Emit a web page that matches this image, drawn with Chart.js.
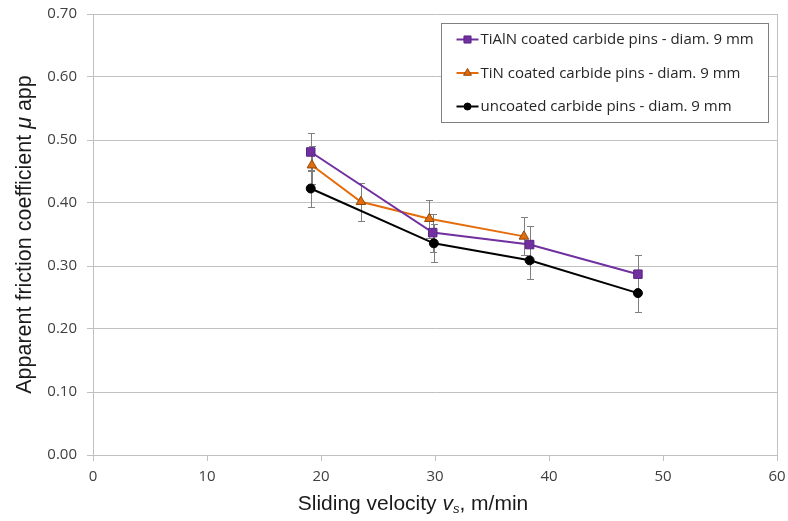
<!DOCTYPE html>
<html>
<head>
<meta charset="utf-8">
<script src="https://cdn.jsdelivr.net/npm/chart.js@4.4.0/dist/chart.umd.min.js"></script>
<style>
  html, body { margin: 0; padding: 0; background: #fff; }
</style>
</head>
<body>
<canvas id="friction" width="788" height="521"></canvas>
<script>
// series names as in the legend
const seriesNames = [
  'TiAlN coated carbide pins - diam. 9 mm',
  'TiN coated carbide pins - diam. 9 mm',
  'uncoated carbide pins - diam. 9 mm'
];

// sliding velocity (m/min), friction coefficient, error (+/-)
const velTiAlN = [19.1, 29.8, 38.3, 47.8];
const muTiAlN  = [0.481, 0.353, 0.334, 0.287];
const errTiAlN = [0.03, 0.03, 0.03, 0.03];

const velTiN = [19.2, 23.5, 29.5, 37.8];
const muTiN  = [0.460, 0.402, 0.375, 0.347];
const errTiN = [0.03, 0.03, 0.03, 0.03];

const velUncoated = [19.1, 29.9, 38.3, 47.8];
const muUncoated  = [0.423, 0.336, 0.309, 0.257];
const errUncoated = [0.03, 0.03, 0.03, 0.03];

const xTicks = [0, 10, 20, 30, 40, 50, 60];
const yTicks = [0, 0.1, 0.2, 0.3, 0.4, 0.5, 0.6, 0.7];

const toPoints = (xs, ys) => xs.map((v, i) => ({ x: v, y: ys[i] }));

const gridGray = '#c0c0c0';
const tickFont = { family: '"Open Sans", sans-serif', size: 15 };
const tickColor = '#404040';

// vertical error bars, drawn under the lines
const errorBars = {
  id: 'errorBars',
  beforeDatasetsDraw(chart) {
    const { ctx, scales: { x, y } } = chart;
    ctx.save();
    ctx.strokeStyle = '#7f7f7f';
    ctx.lineWidth = 1;
    chart.data.datasets.forEach(ds => {
      ds.data.forEach((p, i) => {
        const e = ds.errors[i];
        const px = Math.round(x.getPixelForValue(p.x)) + 0.5;
        const top = Math.round(y.getPixelForValue(p.y + e)) + 0.5;
        const bot = Math.round(y.getPixelForValue(p.y - e)) + 0.5;
        ctx.beginPath();
        ctx.moveTo(px, top); ctx.lineTo(px, bot);
        ctx.moveTo(px - 3.5, top); ctx.lineTo(px + 3.5, top);
        ctx.moveTo(px - 3.5, bot); ctx.lineTo(px + 3.5, bot);
        ctx.stroke();
      });
    });
    ctx.restore();
  }
};

// write a string made of parts with different fonts, centred on x
function drawParts(ctx, parts, x, y) {
  let total = 0;
  parts.forEach(p => { ctx.font = p[1]; total += ctx.measureText(p[0]).width; });
  let cx = x - total / 2;
  parts.forEach(p => {
    ctx.font = p[1];
    ctx.fillText(p[0], cx, y + (p[2] || 0));
    cx += ctx.measureText(p[0]).width;
  });
}

const axisTitles = {
  id: 'axisTitles',
  afterDraw(chart) {
    const ctx = chart.ctx;
    const area = chart.chartArea;
    const fam = '"Liberation Sans", Arial, sans-serif';
    ctx.save();
    ctx.fillStyle = '#1a1a1a';
    ctx.textBaseline = 'middle';
    ctx.textAlign = 'left';
    drawParts(ctx, [
      ['Sliding velocity ', '21px ' + fam],
      ['v', 'italic 21px ' + fam],
      ['s', 'italic 13px ' + fam, 5],
      [', m/min', '21px ' + fam]
    ], 413, 504);
    ctx.translate(25, (area.top + area.bottom) / 2);
    ctx.rotate(-Math.PI / 2);
    drawParts(ctx, [
      ['Apparent friction coefficient ', '21.5px ' + fam],
      ['\u03bc', 'italic 21.5px ' + fam],
      [' app', '21.5px ' + fam]
    ], 0, 0);
    ctx.restore();
  }
};

// boxed legend inside the top right of the plot
const boxLegend = {
  id: 'boxLegend',
  afterDraw(chart) {
    const ctx = chart.ctx;
    const area = chart.chartArea;
    const w = 327, h = 99;
    const left = Math.round(area.right - 9 - w) + 0.5;
    const top = Math.round(area.top + 9) + 0.5;
    ctx.save();
    ctx.fillStyle = '#fff';
    ctx.fillRect(left, top, w, h);
    ctx.strokeStyle = '#808080';
    ctx.lineWidth = 1;
    ctx.strokeRect(left, top, w, h);
    ctx.font = '15px "Open Sans", sans-serif';
    ctx.textBaseline = 'middle';
    ctx.textAlign = 'left';
    chart.data.datasets.forEach((ds, i) => {
      const cy = top + 16 + i * 33.5;
      ctx.strokeStyle = ds.borderColor;
      ctx.lineWidth = 2;
      ctx.beginPath();
      ctx.moveTo(left + 15, cy);
      ctx.lineTo(left + 37, cy);
      ctx.stroke();
      ctx.fillStyle = ds.pointBackgroundColor;
      ctx.strokeStyle = ds.pointBorderColor;
      ctx.lineWidth = 1;
      Chart.helpers.drawPoint(ctx, {
        pointStyle: ds.pointStyle, radius: ds.pointRadius - 1, rotation: 0, borderWidth: 1
      }, left + 26, cy);
      ctx.fillStyle = '#262626';
      ctx.fillText(ds.label, left + 39, cy + 0.5);
    });
    ctx.restore();
  }
};

new Chart(document.getElementById('friction').getContext('2d'), {
  type: 'line',
  data: {
    datasets: [{
      label: seriesNames[0],
      data: toPoints(velTiAlN, muTiAlN),
      errors: errTiAlN,
      borderColor: '#7030a0',
      backgroundColor: '#7030a0',
      pointBackgroundColor: '#7030a0',
      pointBorderColor: '#5c2585',
      pointStyle: 'rect',
      pointRadius: 6,
      pointBorderWidth: 1,
      borderWidth: 2
    }, {
      label: seriesNames[1],
      data: toPoints(velTiN, muTiN),
      errors: errTiN,
      borderColor: '#e46c0a',
      backgroundColor: '#e46c0a',
      pointBackgroundColor: '#e46c0a',
      pointBorderColor: '#8a4a10',
      pointStyle: 'triangle',
      pointRadius: 5.5,
      pointBorderWidth: 1,
      borderWidth: 2
    }, {
      label: seriesNames[2],
      data: toPoints(velUncoated, muUncoated),
      errors: errUncoated,
      borderColor: '#000000',
      backgroundColor: '#000000',
      pointBackgroundColor: '#000000',
      pointBorderColor: '#000000',
      pointStyle: 'circle',
      pointRadius: 4.5,
      pointBorderWidth: 1,
      borderWidth: 2
    }]
  },
  options: {
    responsive: false,
    animation: false,
    devicePixelRatio: 1,
    layout: { padding: { top: 14, right: 11, left: 0, bottom: 0 } },
    plugins: {
      legend: { display: false },
      tooltip: { enabled: false }
    },
    scales: {
      x: {
        type: 'linear',
        min: xTicks[0],
        max: xTicks[xTicks.length - 1],
        afterBuildTicks(s) { s.ticks = xTicks.map(v => ({ value: v })); },
        ticks: { font: tickFont, color: tickColor, padding: 7, maxRotation: 0 },
        grid: {
          color: c => (c.tick && c.tick.value === 60) ? gridGray : 'rgba(0,0,0,0)',
          tickColor: gridGray,
          tickLength: 6
        },
        border: { color: gridGray },
        afterFit(s) { s.height = 66; s.paddingLeft = 0; s.paddingRight = 0; }
      },
      y: {
        min: yTicks[0],
        max: yTicks[yTicks.length - 1],
        afterBuildTicks(s) { s.ticks = yTicks.map(v => ({ value: v })); },
        ticks: { font: tickFont, color: tickColor, padding: 10, callback: v => v.toFixed(2) },
        grid: { color: gridGray, tickColor: gridGray, tickLength: 6 },
        border: { color: gridGray },
        afterFit(s) { s.width = 93; s.paddingTop = 0; s.paddingBottom = 0; }
      }
    }
  },
  plugins: [errorBars, axisTitles, boxLegend]
});
</script>
</body>
</html>
